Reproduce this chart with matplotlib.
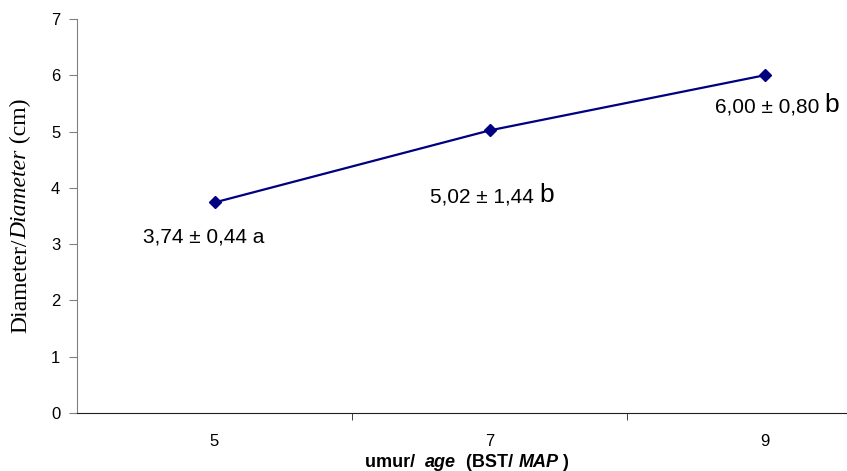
import numpy as np
import matplotlib
matplotlib.use("Agg")
import matplotlib.pyplot as plt

ages = ["5", "7", "9"]
means = [3.74, 5.02, 6.00]
sds = [0.44, 1.44, 0.80]
letters = ["a", "b", "b"]

plt.rcParams['font.family'] = ['Liberation Sans', 'DejaVu Sans']

fig = plt.figure(figsize=(8.47, 4.71), dpi=100)
W, H = 847, 471
ax = fig.add_axes([77 / W, 1 - 413 / H, (847 - 77) / W, (413 - 19) / H])

x = np.arange(len(ages))
ax.plot(x, means, '-', color='#000080', lw=1.6, marker='D', ms=6.5,
        mfc='#000080', mec='#000080')

ax.set_ylim(0, 7)
ax.set_xlim(-0.5, 2.3)
ax.set_yticks(range(8))
ax.set_xticks(x)
ax.set_xticklabels(ages)
ax.set_xticks([0.5, 1.5], minor=True)
ax.tick_params(axis='x', which='major', length=0, pad=15, labelsize=12)
ax.tick_params(axis='x', which='minor', length=5, direction='out', color='#202020')
ax.tick_params(axis='y', length=6, direction='out', color='#808080', labelsize=12, pad=6)
for s in ['top', 'right']:
    ax.spines[s].set_visible(False)
ax.spines['left'].set_color('#808080')
ax.spines['bottom'].set_color('#202020')

# value labels
offs = [(-72, -40), (-60, -72), (-50, -37)]
big = [False, True, True]
fig.canvas.draw()
r = fig.canvas.get_renderer()
for i in range(len(ages)):
    main = f"{means[i]:.2f} ± {sds[i]:.2f} ".replace('.', ',')
    if not big[i]:
        ax.annotate(main + letters[i], (x[i], means[i]), xytext=offs[i],
                    textcoords='offset pixels', fontsize=15, ha='left', va='baseline')
    else:
        t = ax.annotate(main, (x[i], means[i]), xytext=offs[i],
                        textcoords='offset pixels', fontsize=15, ha='left', va='baseline')
        w = t.get_window_extent(r).width
        ax.annotate(letters[i], (x[i], means[i]), xytext=(offs[i][0] + w, offs[i][1]),
                    textcoords='offset pixels', fontsize=19, ha='left', va='baseline')


def rich(pieces, cx, cy, rotation=0):
    ts = []
    for s, kw in pieces:
        t = fig.text(0, 0, s, rotation=0, rotation_mode='anchor',
                     ha='left', va='baseline', **kw)
        ts.append(t)
    ws = [t.get_window_extent(r).width for t in ts]
    total = sum(ws)
    pos = -total / 2
    for t, w in zip(ts, ws):
        if rotation == 0:
            t.set_position(((cx + pos) / W, 1 - cy / H))
        else:
            t.set_rotation(90)
            t.set_position((cx / W, 1 - (cy - pos) / H))
        pos += w


serif = dict(family='Liberation Serif', fontsize=17)
rich([("Diameter/", serif),
      ("Diameter", dict(serif, style='italic')),
      (" (cm)", serif)], 26, 216, rotation=90)

bold = dict(fontsize=13, weight='bold')
rich([("umur/  ", bold),
      ("age", dict(bold, style='italic')),
      ("  (BST/ ", bold),
      ("MAP", dict(bold, style='italic')),
      (" )", bold)], 467, 467)

fig.savefig("out.png", dpi=100)
